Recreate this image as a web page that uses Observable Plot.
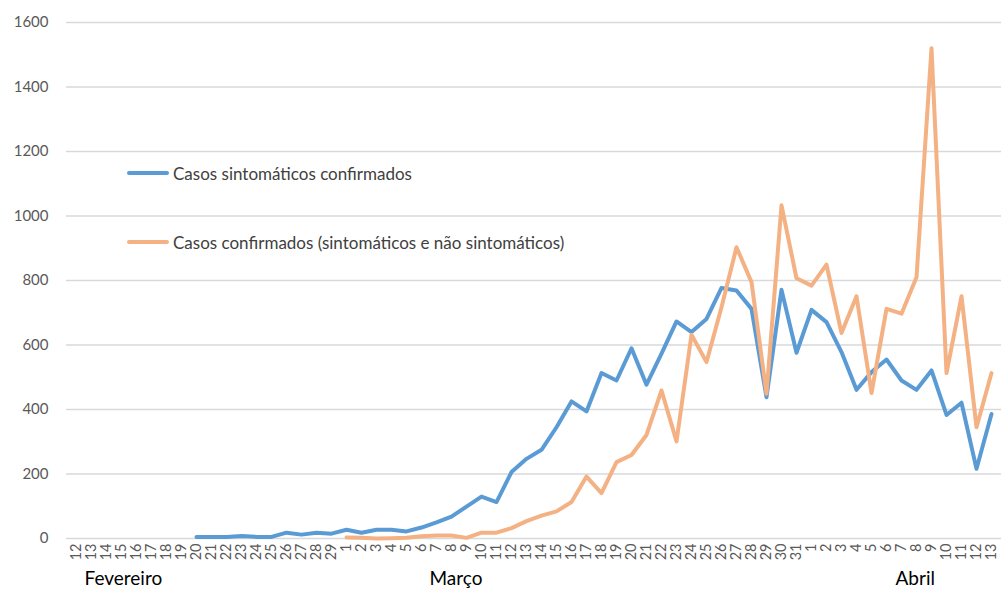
<!DOCTYPE html>
<html>
<head>
<meta charset="utf-8">
<script src="https://cdn.jsdelivr.net/npm/d3@7"></script>
<script src="https://cdn.jsdelivr.net/npm/@observablehq/plot@0.6"></script>
<style>
  html, body { margin: 0; padding: 0; background: #fff; }
  #wrap { position: relative; width: 1002px; height: 589px; font-family: Lato, "Open Sans", sans-serif; }
  .leg { position: absolute; display: flex; align-items: center; font-size: 17px; color: #404040; white-space: nowrap; }
  .leg .sw { width: 42px; height: 4px; border-radius: 2px; margin-right: 4px; }
</style>
</head>
<body>
<div id="wrap"></div>
<script>
// Day labels: 12–29 Feb, 1–31 Mar, 1–13 Apr
const dayLabels = [
  "12","13","14","15","16","17","18","19","20","21","22","23","24","25","26","27","28","29",
  "1","2","3","4","5","6","7","8","9","10","11","12","13","14","15","16","17","18","19","20","21","22","23","24","25","26","27","28","29","30","31",
  "1","2","3","4","5","6","7","8","9","10","11","12","13"
];
const seriesNames = ["Casos sintomáticos confirmados", "Casos confirmados (sintomáticos e não sintomáticos)"];
const seriesColors = ["#5B9BD5", "#F4B183"];
// Casos sintomáticos confirmados (starts 20 Feb)
const sintomaticos = [
  null,null,null,null,null,null,null,null,
  5,5,5,8,5,5,18,12,18,15,
  27,18,27,27,22,34,50,68,99,130,113,206,247,275,345,425,394,513,490,590,477,573,673,640,681,777,769,712,438,771,576,
  709,671,578,461,516,555,490,461,521,383,421,216,386
];
// Casos confirmados (sintomáticos e não sintomáticos) (starts 1 Mar)
const confirmados = [
  null,null,null,null,null,null,null,null,null,null,null,null,null,null,null,null,null,null,
  3,2,0,1,2,7,9,9,2,18,18,32,54,71,84,113,192,141,237,259,321,459,301,632,547,717,903,795,449,1033,807,
  784,849,637,751,451,712,697,810,1520,513,751,345,513
];
const yTicks = [0,200,400,600,800,1000,1200,1400,1600];
const monthNames = ["Fevereiro","Março","Abril"];
const monthAnchorIdx = [0, 24, 55];
const monthDx = [8, -7, -6];

const idx = dayLabels.map((_, i) => i);
const rows = [];
idx.forEach(i => {
  rows.push({i, v: sintomaticos[i], s: seriesNames[0]});
});
idx.forEach(i => {
  rows.push({i, v: confirmados[i], s: seriesNames[1]});
});

const chart = Plot.plot({
  width: 1002,
  height: 589,
  marginLeft: 66,
  marginRight: 1,
  marginTop: 22,
  marginBottom: 51,
  style: {fontFamily: "Lato, 'Open Sans', sans-serif", background: "#fff"},
  x: {type: "point", domain: idx, padding: 0.5, label: null},
  y: {domain: [0, 1600], label: null},
  color: {domain: seriesNames, range: seriesColors},
  marks: [
    Plot.gridY(yTicks, {stroke: "#d9d9d9", strokeOpacity: 1, strokeWidth: 1.5}),
    Plot.axisY(yTicks, {tickSize: 0, tickPadding: 18, fontSize: 15, fill: "#595959", label: null, tickFormat: d => String(d)}),
    Plot.axisX(idx, {tickSize: 0, tickRotate: -90, tickPadding: 5, fontSize: 14.5, fill: "#595959",
      tickFormat: i => dayLabels[i], label: null}),
    Plot.line(rows, {x: "i", y: "v", z: "s", stroke: "s", strokeWidth: 4, strokeLinejoin: "round", strokeLinecap: "round"}),
    ...monthNames.map((m, k) => Plot.text([m], {
      x: [monthAnchorIdx[k]], text: d => d, frameAnchor: "bottom", textAnchor: "start",
      lineAnchor: "bottom", dy: 46, dx: monthDx[k], fontSize: 19, fill: "#000"
    }))
  ]
});

const wrap = document.getElementById("wrap");
wrap.appendChild(chart);

const legTops = [173, 242];
seriesNames.forEach((n, k) => {
  const d = document.createElement("div");
  d.className = "leg";
  d.style.left = "127px";
  d.style.top = (legTops[k] - 11) + "px";
  d.style.height = "22px";
  const sw = document.createElement("span");
  sw.className = "sw";
  sw.style.background = seriesColors[k];
  const t = document.createElement("span");
  t.textContent = n;
  d.appendChild(sw);
  d.appendChild(t);
  wrap.appendChild(d);
});
</script>
</body>
</html>
